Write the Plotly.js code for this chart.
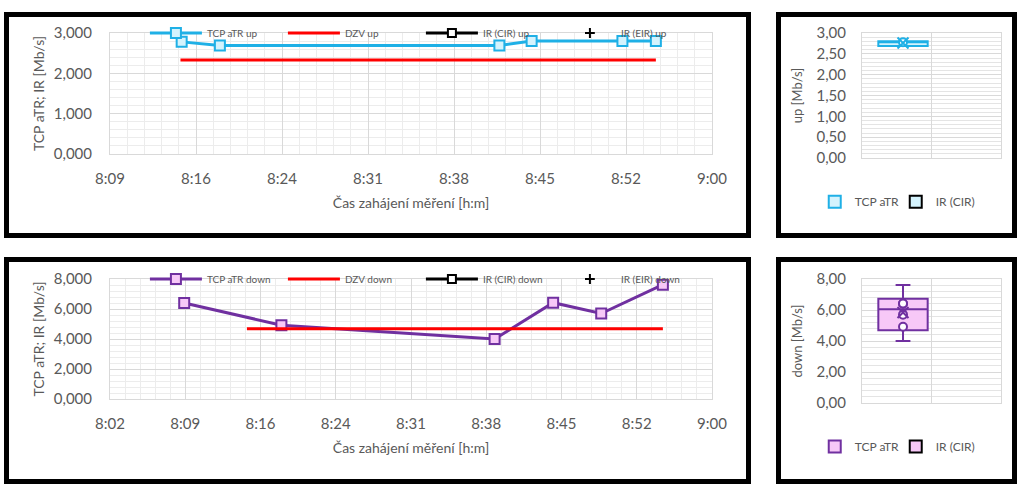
<!DOCTYPE html>
<html><head><meta charset="utf-8">
<script src="https://cdn.plot.ly/plotly-3.0.1.min.js"></script>
<style>
html,body{margin:0;padding:0;background:#fff;width:1024px;height:490px;overflow:hidden;}
.panel{position:absolute;box-sizing:border-box;border:5px solid #000;background:#fff;}
.panel > div{width:100%;height:100%;}
</style></head><body>
<div class="panel" style="left:4px;top:12px;width:747px;height:226px"><div id="tl"></div></div>
<div class="panel" style="left:776px;top:12px;width:241px;height:226px"><div id="tr"></div></div>
<div class="panel" style="left:4px;top:257px;width:747px;height:227px"><div id="bl"></div></div>
<div class="panel" style="left:776px;top:257px;width:241px;height:227px"><div id="br"></div></div>
<script>
// ---------- data ----------
const DAY = '2024-01-01 ';
const upTimes = ['08:15:36','08:18:48','08:42:12','08:44:54','08:52:30','08:55:18'];
const upTCP = [2.78, 2.69, 2.69, 2.80, 2.80, 2.80];
const downTimes = ['08:09:30','08:18:48','08:39:12','08:44:48','08:49:24','08:55:18'];
const downTCP = [6.40, 4.92, 4.00, 6.42, 5.70, 7.62];
const dzvTimes = ['08:15:30','08:55:18'];
const dzvUp = [2.33, 2.33];
const dzvDown = [4.69, 4.69];
const upNames = ['TCP aTR up','DZV up','IR (CIR) up','IR (EIR) up'];
const downNames = ['TCP aTR down','DZV down','IR (CIR) down','IR (EIR) down'];
const boxNames = ['TCP aTR','IR (CIR)'];
const xTitle = 'Čas zahájení měření [h:m]';
const lineYTitle = 'TCP aTR; IR [Mb/s]';
const upBoxTitle = 'up [Mb/s]';
const downBoxTitle = 'down [Mb/s]';
const upAxisStart = '08:09:36';
const downAxisStart = '08:02:24';
const axisEnd = '09:00:00';

// ---------- styles ----------
const FONT = 'Lato, "Open Sans", sans-serif';
const GRAY = '#595959';
const GRID = '#d9d9d9';
const MINOR = '#ececec';
const upStyle = {line:'#1fb0e6', fill:'#d4f3fd'};
const downStyle = {line:'#7030a0', fill:'#f7c8f7'};
const cfg = {displayModeBar:false, staticPlot:true};
const toDate = t => DAY + t;

function lineTraces(times, vals, names, dzv, st) {
  return [
    {type:'scatter', mode:'lines+markers', name:names[0], x:times.map(toDate), y:vals,
     line:{color:st.line, width:3}, marker:{symbol:'square', size:10, color:st.fill, line:{color:st.line, width:2}}},
    {type:'scatter', mode:'lines', name:names[1], x:dzvTimes.map(toDate), y:dzv,
     line:{color:'#ff0000', width:3}},
    {type:'scatter', mode:'lines+markers', name:names[2], x:[null], y:[null],
     line:{color:'#000', width:3}, marker:{symbol:'square', size:8, color:'#fff', line:{color:'#000', width:2}}},
    {type:'scatter', mode:'markers', name:names[3], x:[null], y:[null],
     marker:{symbol:'cross-thin', size:7, color:'#000', line:{color:'#000', width:2}}}
  ];
}

function lineLayout(start, yMax, yDtick, h, mt, mb) {
  return {
    width:737, height:h, margin:{l:101, r:34, t:mt, b:mb, autoexpand:false},
    separators:',.', paper_bgcolor:'#fff', plot_bgcolor:'#fff',
    font:{family:FONT, color:GRAY, size:13},
    showlegend:true,
    legend:{orientation:'h', x:0.058, xanchor:'left', y:1, yanchor:'middle',
      font:{size:10, color:GRAY}, itemwidth:52, entrywidth:71, entrywidthmode:'pixels',
      bgcolor:'rgba(0,0,0,0)', traceorder:'normal'},
    xaxis:{type:'date', range:[toDate(start), toDate(axisEnd)], tick0:toDate(start), dtick:432000,
      tickformat:'%-H:%M', ticks:'', ticklabelstandoff:11, tickfont:{size:15, color:GRAY},
      showgrid:true, gridcolor:GRID, gridwidth:1,
      minor:{dtick:86400, showgrid:true, gridcolor:MINOR, gridwidth:1},
      showline:true, linecolor:GRID, mirror:true, zeroline:false,
      title:{text:xTitle, font:{size:14, color:GRAY}, standoff:12}},
    yaxis:{range:[0,yMax], dtick:yDtick, tick0:0, tickformat:'.3f', ticks:'', ticklabelstandoff:14,
      tickfont:{size:15, color:GRAY}, showgrid:true, gridcolor:GRID,
      minor:{dtick:yDtick/5, showgrid:true, gridcolor:MINOR},
      showline:true, linecolor:GRID, mirror:true, zeroline:false,
      title:{text:lineYTitle, font:{size:14, color:GRAY}, standoff:5}}
  };
}

// Excel-style (QUARTILE.EXC) quartile
function qexc(sorted, q) {
  const p = q * (sorted.length + 1);
  const i = Math.floor(p), f = p - i;
  if (i < 1) return sorted[0];
  if (i >= sorted.length) return sorted[sorted.length - 1];
  return sorted[i - 1] + f * (sorted[i] - sorted[i - 1]);
}

function boxTraces(vals, st) {
  const s = [...vals].sort((a,b)=>a-b);
  const mn = s[0], mx = s[s.length-1];
  const inner = vals.filter(v => v > mn && v < mx);
  const mean = vals.reduce((a,b)=>a+b,0)/vals.length;
  const xc = 0.59;
  return [
    {type:'box', name:boxNames[0], x:[xc], q1:[qexc(s,0.25)], median:[qexc(s,0.5)], q3:[qexc(s,0.75)],
     lowerfence:[mn], upperfence:[mx], width:0.71, boxpoints:false,
     fillcolor:st.fill, line:{color:st.line, width:2}, whiskerwidth:0.3},
    {type:'box', name:boxNames[1], x:[1.5], y:[null], width:0.71, boxpoints:false,
     fillcolor:st.fill, line:{color:'#000', width:2}},
    {type:'scatter', mode:'markers', x:inner.map(()=>xc), y:inner, showlegend:false,
     marker:{symbol:'circle', size:8, color:'#fff', line:{color:st.line, width:2}}},
    {type:'scatter', mode:'markers', x:[xc], y:[mean], showlegend:false,
     marker:{symbol:'x-thin', size:11, color:st.line, line:{color:st.line, width:2}}}
  ];
}

function boxLayout(yMax, yDtick, title, h, mt, mb) {
  return {
    width:231, height:h, margin:{l:81, r:11, t:mt, b:mb, autoexpand:false},
    separators:',.', paper_bgcolor:'#fff', plot_bgcolor:'#fff',
    font:{family:FONT, color:GRAY, size:13},
    showlegend:true,
    legend:{orientation:'h', x:-0.34, xanchor:'left', y:-0.35, yanchor:'middle',
      font:{size:12, color:GRAY}, itemwidth:30, entrywidth:36, entrywidthmode:'pixels',
      bgcolor:'rgba(0,0,0,0)', traceorder:'normal'},
    xaxis:{range:[0,2], tick0:0, dtick:1, showticklabels:false, ticks:'', showgrid:true, gridcolor:GRID,
      showline:true, linecolor:GRID, mirror:true, zeroline:false},
    yaxis:{range:[0,yMax], tick0:0, dtick:yDtick, tickformat:'.2f', ticks:'', ticklabelstandoff:12,
      tickfont:{size:15, color:GRAY}, showgrid:true, gridcolor:GRID,
      minor:{dtick:yDtick/5, showgrid:true, gridcolor:'#e4e4e4'},
      showline:true, linecolor:GRID, mirror:true, zeroline:false,
      title:{text:title, font:{size:13, color:GRAY}, standoff:10}}
  };
}

Plotly.newPlot('tl', lineTraces(upTimes, upTCP, upNames, dzvUp, upStyle), lineLayout(upAxisStart, 3, 1, 216, 16, 79), cfg);
Plotly.newPlot('bl', lineTraces(downTimes, downTCP, downNames, dzvDown, downStyle), lineLayout(downAxisStart, 8, 2, 217, 17, 80), cfg);
Plotly.newPlot('tr', boxTraces(upTCP, upStyle), boxLayout(3, 0.5, upBoxTitle, 216, 16, 75), cfg);
Plotly.newPlot('br', boxTraces(downTCP, downStyle), boxLayout(8, 2, downBoxTitle, 217, 17, 76), cfg);
</script>
</body></html>
